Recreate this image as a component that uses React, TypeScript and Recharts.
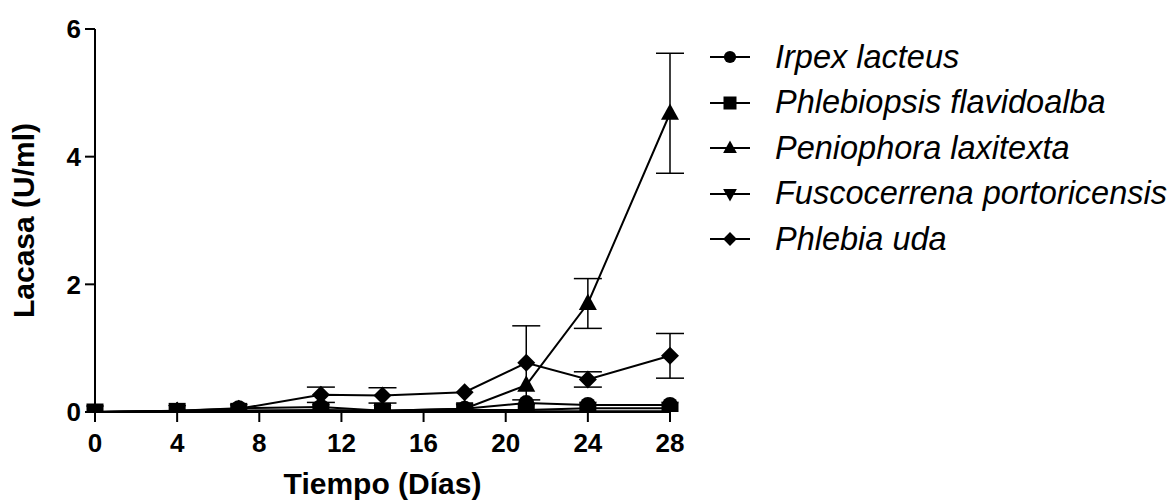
import React from 'react';
import { LineChart, Line, XAxis, YAxis, ErrorBar, Label } from 'recharts';

// sampling days
const days = [0, 4, 7, 11, 14, 18, 21, 24, 28];

// laccase activity (U/ml) per strain
const irpex = [0, 0.02, 0.06, 0.08, 0.02, 0.05, 0.14, 0.11, 0.11];
const phlebiopsis = [0, 0.01, 0.01, 0.01, 0.01, 0.02, 0.01, 0.01, 0.01];
const peniophora = [0, 0.01, 0.02, 0.03, 0.02, 0.05, 0.42, 1.7, 4.68];
const fuscocerrena = [0, 0.01, 0.02, 0.02, 0.01, 0.03, 0.03, 0.06, 0.06];
const phlebia = [0, 0.02, 0.05, 0.27, 0.26, 0.31, 0.77, 0.51, 0.88];

// standard deviations
const peniophoraErr = [0, 0, 0, 0, 0, 0, 0, 0.39, 0.94];
const phlebiaErr = [0, 0, 0, 0.12, 0.12, 0, 0.58, 0.12, 0.35];

const xTicks = [0, 4, 8, 12, 16, 20, 24, 28];
const yTicks = [0, 2, 4, 6];

const data = days.map((d, i) => ({
  day: d,
  irpex: irpex[i],
  phlebiopsis: phlebiopsis[i],
  peniophora: peniophora[i],
  fuscocerrena: fuscocerrena[i],
  phlebia: phlebia[i],
  peniophoraErr: peniophoraErr[i],
  phlebiaErr: phlebiaErr[i],
}));

const FONT = '"Liberation Sans", Arial, Helvetica, sans-serif';

type Shape = 'circle' | 'square' | 'triangle' | 'down' | 'diamond';

// draws a marker centred on cx, cy
const marker = (shape: Shape, cx: number, cy: number, s: number, key?: string) => {
  if (shape === 'circle') return <circle key={key} cx={cx} cy={cy} r={s * 0.47} fill="#000" />;
  if (shape === 'square')
    return <rect key={key} x={cx - s / 2} y={cy - s / 2} width={s} height={s} fill="#000" />;
  if (shape === 'triangle')
    return (
      <path key={key} d={`M${cx},${cy - s * 0.58}L${cx + s * 0.53},${cy + s * 0.38}L${cx - s * 0.53},${cy + s * 0.38}Z`} fill="#000" />
    );
  if (shape === 'down')
    return (
      <path key={key} d={`M${cx},${cy + s * 0.58}L${cx + s * 0.53},${cy - s * 0.38}L${cx - s * 0.53},${cy - s * 0.38}Z`} fill="#000" />
    );
  return (
    <path key={key} d={`M${cx},${cy - s * 0.53}L${cx + s * 0.53},${cy}L${cx},${cy + s * 0.53}L${cx - s * 0.53},${cy}Z`} fill="#000" />
  );
};

const series: { key: string; name: string; shape: Shape }[] = [
  { key: 'irpex', name: 'Irpex lacteus', shape: 'circle' },
  { key: 'phlebiopsis', name: 'Phlebiopsis flavidoalba', shape: 'square' },
  { key: 'peniophora', name: 'Peniophora laxitexta', shape: 'triangle' },
  { key: 'fuscocerrena', name: 'Fuscocerrena portoricensis', shape: 'down' },
  { key: 'phlebia', name: 'Phlebia uda', shape: 'diamond' },
];

const tickStyle = { fill: '#000', fontSize: 26, fontWeight: 700, fontFamily: FONT };

export default function App() {
  return (
    <div style={{ position: 'absolute', left: 0, top: 0, width: 1171, height: 501, background: '#fff' }}>
      <LineChart width={1171} height={501} data={data} margin={{ top: 29, right: 501, bottom: 29, left: 0 }}>
        <XAxis
          dataKey="day"
          type="number"
          domain={[0, 28]}
          ticks={xTicks}
          height={60}
          stroke="#000"
          strokeWidth={2}
          tickSize={10}
          tickMargin={12}
          tick={tickStyle}
          interval={0}
        >
          <Label
            value="Tiempo (Días)"
            position="bottom"
            offset={1}
            style={{ fill: '#000', fontSize: 30, fontWeight: 700, fontFamily: FONT }}
          />
        </XAxis>
        <YAxis
          type="number"
          domain={[0, 6]}
          ticks={yTicks}
          width={95}
          stroke="#000"
          strokeWidth={2}
          tickSize={10}
          tickMargin={4}
          tick={tickStyle}
          allowDataOverflow
        >
          <Label
            value="Lacasa (U/ml)"
            angle={-90}
            position="insideLeft"
            offset={23}
            style={{ fill: '#000', fontSize: 30, fontWeight: 700, fontFamily: FONT, textAnchor: 'middle' }}
          />
        </YAxis>
        {series.map((s) => (
          <Line
            key={s.key}
            dataKey={s.key}
            name={s.name}
            type="linear"
            stroke="#000"
            strokeWidth={2}
            isAnimationActive={false}
            activeDot={false}
            dot={(p: any) => marker(s.shape, p.cx, p.cy, 17, `${s.key}-${p.index}`)}
          >
            {s.key === 'peniophora' && (
              <ErrorBar dataKey="peniophoraErr" width={14} stroke="#000" strokeWidth={1.5} direction="y" />
            )}
            {s.key === 'phlebia' && (
              <ErrorBar dataKey="phlebiaErr" width={14} stroke="#000" strokeWidth={1.5} direction="y" />
            )}
          </Line>
        ))}
      </LineChart>
      {series.map((s, i) => (
        <div
          key={s.key}
          style={{
            position: 'absolute',
            left: 710,
            top: 57 + i * 45.5 - 20,
            height: 40,
            display: 'flex',
            alignItems: 'center',
            whiteSpace: 'nowrap',
          }}
        >
          <svg width={40} height={20} style={{ display: 'block' }}>
            <line x1={0} y1={10} x2={40} y2={10} stroke="#000" strokeWidth={2} />
            {marker(s.shape, 20, 10, 13)}
          </svg>
          <span style={{ marginLeft: 25, fontFamily: FONT, fontStyle: 'italic', fontSize: 32.5, color: '#000' }}>
            {s.name}
          </span>
        </div>
      ))}
    </div>
  );
}
